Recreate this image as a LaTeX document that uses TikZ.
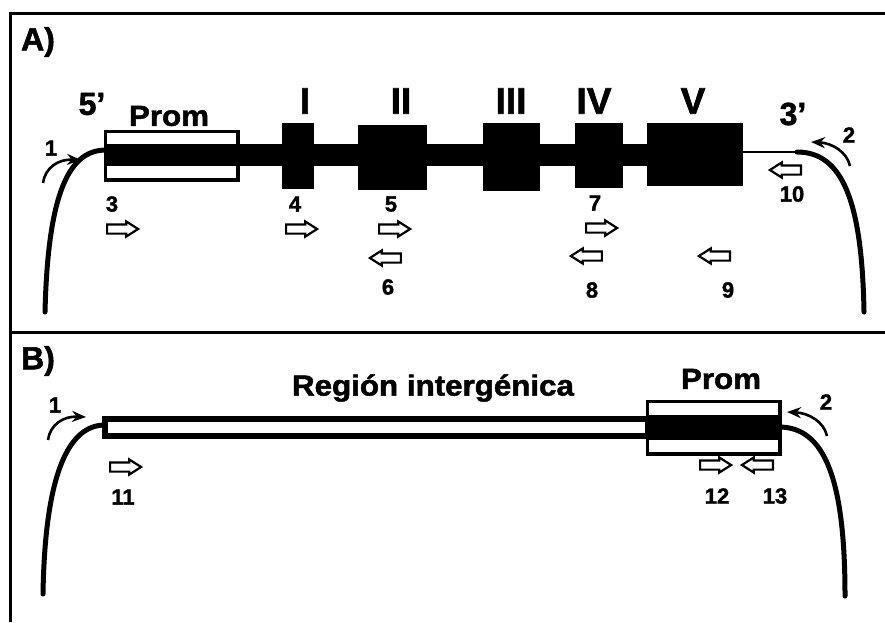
\documentclass[tikz,border=0pt]{standalone}
\usepackage{fontspec}
\setmainfont{Liberation Sans}[BoldFeatures={FakeBold=1.6}]
\usetikzlibrary{shapes.arrows,arrows.meta}
\tikzset{
  frame/.style={line width=3pt},
  dna/.style={line width=5pt, line cap=round},
  thinl/.style={line width=2pt},
  exon/.style={fill=black, draw=black},
  prombox/.style={draw=black, fill=white, line width=2.5pt},
  hdr/.style={font=\bfseries\fontsize{32}{32}\selectfont, inner sep=0pt},
  big/.style={font=\bfseries\fontsize{29}{29}\selectfont, inner sep=0pt, xscale=1.08},
  rom/.style={font=\bfseries\fontsize{37}{37}\selectfont, inner sep=0pt},
  num/.style={font=\bfseries\fontsize{22}{22}\selectfont, inner sep=0pt},
  rarr/.style={single arrow, draw=black, fill=white, line width=2.2pt, minimum height=31pt, minimum width=13pt, single arrow head extend=3pt, single arrow tip angle=65, inner xsep=0pt, inner ysep=3.5pt},
  larr/.style={rarr, shape border rotate=180},
  primer/.style={line width=2.6pt, -{Stealth[length=14pt,width=11pt]}}
}
\begin{document}
\begin{tikzpicture}[x=1pt,y=-1pt]
\useasboundingbox (0,0) rectangle (885,622);
% frame
\coordinate (ftl) at (10,13);
\coordinate (ftr) at (885,13);
\coordinate (fml) at (10,332);
\coordinate (fmr) at (885,332);
\coordinate (fbl) at (10,622);
\draw[frame] (ftr) -- (ftl) -- (fbl);
\draw[frame] (fml) -- (fmr);

% ===== Panel A =====
\node[hdr] (la) at (38,42) {A)};
% promoter box A
\node[prombox, minimum width=131pt, minimum height=47pt, inner sep=0pt] (promA) at (171.5,155.5) {};
% DNA backbone A
\fill[black] (106,144) rectangle (282,166);
\fill[black] (313,144) rectangle (358,166);
\fill[black] (426,144) rectangle (483,166);
\fill[black] (539,144) rectangle (575,166);
\fill[black] (622,144) rectangle (647,166);
\draw[prombox, fill=none] (promA.north west) rectangle (promA.south east);
% exons
\node[exon, minimum width=31pt, minimum height=65pt, inner sep=0pt] (e1) at (297.5,155.5) {};
\node[exon, minimum width=68pt, minimum height=64pt, inner sep=0pt] (e2) at (392,157) {};
\node[exon, minimum width=56pt, minimum height=67pt, inner sep=0pt] (e3) at (511,156.5) {};
\node[exon, minimum width=47pt, minimum height=64pt, inner sep=0pt] (e4) at (598.5,155) {};
\node[exon, minimum width=95pt, minimum height=62pt, inner sep=0pt] (e5) at (694.5,154) {};
% labels
\node[hdr] (l5) at (92,104) {5’};
\node[big] (lpa) at (169,116) {Prom};
\node[rom] (r1) at (305,101) {I};
\node[rom] (r2) at (401,101) {II};
\node[rom] (r3) at (511,101) {III};
\node[rom] (r4) at (594,101) {IV};
\node[rom] (r5) at (693,101) {V};
\node[hdr] (l3) at (793,114) {3’};
% tails A
\coordinate (tA1) at (106,150);
\coordinate (tA1e) at (45,312);
\draw[dna] (tA1) .. controls (70,150) and (48,190) .. (tA1e);
\coordinate (tA2s) at (797,152);
\coordinate (tA2e) at (864,312);
\draw[thinl] (e5.east |- tA2s) -- (tA2s);
\draw[dna] (tA2s) .. controls (842,152) and (862,200) .. (tA2e);
% primers 1 and 2 A
\node[num] (p1a) at (51,148) {1};
\coordinate (p1as) at (43,183);
\coordinate (p1ae) at (81,160);
\draw[primer] (p1as) .. controls (45,168) and (58,159) .. (p1ae);
\node[num] (p2a) at (849,135) {2};
\coordinate (p2as) at (850,166);
\coordinate (p2ae) at (811,142);
\draw[primer] (p2as) .. controls (847,152) and (832,143) .. (p2ae);
% oligos A
\node[num] (n3) at (112,204) {3};
\node[rarr] (a3) at (119,229) {};
\node[num] (n4) at (295,204) {4};
\node[rarr] (a4) at (298,229) {};
\node[num] (n5) at (391,204) {5};
\node[rarr] (a5) at (391,229) {};
\node[larr] (a6) at (389,258) {};
\node[num] (n6) at (388,287) {6};
\node[num] (n7) at (595,203) {7};
\node[rarr] (a7) at (598,228) {};
\node[larr] (a8) at (590,256) {};
\node[num] (n8) at (592,290) {8};
\node[larr] (a9) at (718,256) {};
\node[num] (n9) at (728,290) {9};
\node[larr] (a10) at (789,170) {};
\node[num] (n10) at (792,194) {10};

% ===== Panel B =====
\node[hdr] (lb) at (38,361) {B)};
\node[big] (lreg) at (433,388) {Región intergénica};
\draw[line width=6pt, fill=white] (105,419) rectangle (648,436);
\node[prombox, minimum width=131pt, minimum height=51pt, inner sep=0pt] (promB) at (713.5,427.5) {};
\fill[black] (648,415) rectangle (779,440);
\draw[prombox, fill=none] (promB.north west) rectangle (promB.south east);
\node[big] (lpb) at (721,379) {Prom};
% tails B
\coordinate (tB1) at (105,425);
\coordinate (tB1e) at (43,594);
\draw[dna] (tB1) .. controls (70,425) and (45,470) .. (tB1e);
\coordinate (tB2) at (779,427);
\coordinate (tB2e) at (845,596);
\draw[dna] (tB2) .. controls (825,427) and (845,480) .. (tB2e);
% primers B
\node[num] (p1b) at (55,405) {1};
\coordinate (p1bs) at (48,440);
\coordinate (p1be) at (86,417);
\draw[primer] (p1bs) .. controls (50,425) and (63,416) .. (p1be);
\node[num] (p2b) at (826,402) {2};
\coordinate (p2bs) at (827,436);
\coordinate (p2be) at (787,412);
\draw[primer] (p2bs) .. controls (824,422) and (809,413) .. (p2be);
% oligos B
\node[rarr] (a11) at (122,467) {};
\node[num] (n11) at (123,497) {11};
\node[rarr] (a12) at (712,465) {};
\node[num] (n12) at (717,496) {12};
\node[larr] (a13) at (761,465) {};
\node[num] (n13) at (775,496) {13};
\end{tikzpicture}
\end{document}
